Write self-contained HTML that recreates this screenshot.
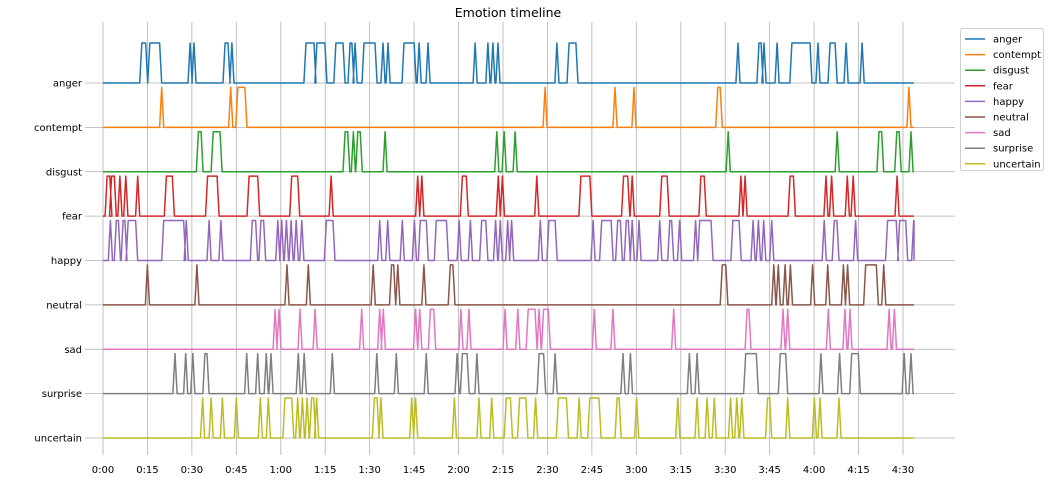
<!DOCTYPE html>
<html><head><meta charset="utf-8">
<style>
body{margin:0;background:#fff;font-family:"Liberation Sans","DejaVu Sans",sans-serif;}
svg text{font-family:"DejaVu Sans","Liberation Sans",sans-serif;}
</style></head>
<body>
<svg id="chart" width="1050" height="482" viewBox="0 0 1050 482" xmlns="http://www.w3.org/2000/svg">
<rect width="1050" height="482" fill="#fff"/>
<text x="508" y="17" text-anchor="middle" font-size="12.5" fill="#000">Emotion timeline</text>
<g id="grid"></g>
<g id="series"></g>
<g id="axes"></g>
<g id="legend"></g>
</svg>
<script>
const emotions = ["anger","contempt","disgust","fear","happy","neutral","sad","surprise","uncertain"];
const colors = ["#1f77b4","#ff7f0e","#2ca02c","#d62728","#9467bd","#8c564b","#e377c2","#7f7f7f","#bcbd22"];
const xTickLabels = ["0:00","0:15","0:30","0:45","1:00","1:15","1:30","1:45","2:00","2:15","2:30","2:45","3:00","3:15","3:30","3:45","4:00","4:15","4:30"];
const xTickMinutes = [0,15,30,45,60,75,90,105,120,135,150,165,180,195,210,225,240,255,270];
const endMinute = 273.7;
// on-intervals [start, end] in minutes
const anger = [[13.1,14.4],[15.8,19.1],[29.4,29.4],[30.7,30.7],[41.2,42.2],[43.5,43.5],[68.5,71.2],[72.2,74.9],[78.6,81.0],[83.4,84.0],[85.1,85.1],[88.1,91.8],[94.5,94.5],[96.2,96.2],[101.6,105.0],[106.7,106.7],[109.7,109.7],[125.6,125.6],[129.9,129.9],[131.6,131.6],[133.3,133.3],[153.2,153.2],[157.3,159.6],[214.3,214.3],[221.4,222.1],[223.1,223.1],[227.5,227.5],[232.5,238.6],[241.3,241.3],[245.4,247.1],[250.8,250.8],[256.2,256.2]];
const contempt = [[19.8,19.8],[43.1,43.1],[45.5,47.9],[149.2,149.2],[172.8,172.8],[179.2,179.2],[207.5,208.3],[272.0,272.0]];
const disgust = [[32.2,33.1],[37.2,39.5],[81.7,82.6],[84.5,84.5],[86.0,86.8],[95.2,95.2],[132.9,132.9],[135.4,135.4],[139.1,139.1],[211.0,211.0],[247.8,247.8],[261.9,262.8],[267.9,268.7],[272.7,272.7]];
const fear = [[1.4,2.3],[2.9,3.8],[5.7,5.7],[7.7,7.7],[11.7,11.7],[21.4,23.4],[35.3,38.5],[49.3,52.2],[63.7,65.7],[77.0,77.0],[106.2,106.2],[107.6,107.6],[121.3,122.6],[133.4,133.4],[134.8,134.8],[146.4,146.4],[161.3,164.3],[175.7,177.1],[178.6,178.6],[188.6,190.4],[201.8,202.9],[215.3,215.3],[216.7,216.7],[231.9,233.0],[244.0,244.0],[245.9,245.9],[251.2,251.2],[253.2,253.2],[268.0,268.0]];
const happy = [[2.5,2.5],[4.5,5.2],[6.8,7.4],[8.5,11.0],[20.5,27.2],[28.1,28.1],[35.8,35.8],[39.8,39.8],[50.4,51.5],[53.3,54.2],[59.0,59.0],[60.3,60.3],[61.9,61.9],[63.5,63.5],[65.2,65.2],[67.1,67.1],[75.4,77.6],[93.4,93.4],[96.1,96.1],[101.0,101.0],[105.1,105.1],[107.1,109.1],[112.5,115.9],[120.2,120.2],[124.0,124.0],[127.8,129.2],[132.5,132.5],[134.1,134.1],[136.6,136.6],[137.9,137.9],[147.6,147.6],[150.5,152.6],[165.4,165.4],[168.3,171.5],[173.7,174.6],[176.6,177.3],[178.6,178.6],[180.9,180.9],[187.9,187.9],[191.3,191.9],[194.6,194.6],[200.0,200.0],[201.4,205.2],[212.6,214.7],[219.4,219.4],[221.2,221.2],[223.0,223.0],[225.7,225.7],[243.4,243.4],[246.8,247.7],[254.0,254.0],[264.8,267.7],[268.9,270.9],[273.6,273.7]];
const neutral = [[15.0,15.0],[31.7,31.7],[62.1,62.1],[69.3,69.3],[91.2,91.2],[97.4,98.1],[99.5,99.5],[108.3,108.3],[117.2,118.1],[209.0,210.2],[226.4,226.4],[227.9,227.9],[230.2,230.2],[232.0,232.0],[239.5,239.5],[244.6,244.6],[249.9,249.9],[251.3,251.3],[257.4,261.0],[263.5,263.5]];
const sad = [[58.1,58.1],[59.4,59.4],[66.5,66.5],[71.6,71.6],[87.3,87.3],[93.4,93.4],[94.6,94.6],[105.5,105.5],[106.9,106.9],[110.5,111.6],[120.8,120.8],[123.5,123.5],[135.7,135.7],[140.0,140.0],[143.5,145.8],[147.2,147.2],[148.7,150.3],[165.8,165.8],[172.1,172.1],[192.6,192.6],[217.4,218.0],[229.5,229.5],[231.1,231.1],[244.8,244.8],[250.4,250.4],[252.1,252.1],[265.3,265.3],[267.1,267.1]];
const surprise = [[24.3,24.3],[27.9,27.9],[30.3,30.3],[34.4,35.1],[48.5,48.5],[52.2,52.2],[55.1,55.1],[56.7,56.7],[65.9,65.9],[67.9,67.9],[77.4,77.4],[92.4,92.4],[99.0,99.0],[109.1,109.1],[119.5,119.5],[121.3,122.9],[126.2,126.2],[147.2,148.7],[152.6,152.6],[175.5,175.5],[178.0,178.0],[197.9,197.9],[200.5,200.5],[216.9,220.5],[228.6,230.4],[242.3,242.3],[248.6,248.6],[252.7,254.9],[270.4,270.4],[272.7,272.7]];
const uncertain = [[33.6,33.6],[36.5,36.5],[40.3,40.3],[45.0,45.0],[53.1,53.1],[55.8,55.8],[61.4,63.7],[65.7,65.7],[67.3,67.3],[68.9,68.9],[70.4,71.1],[72.1,72.1],[91.6,92.5],[93.8,93.8],[104.2,104.2],[105.5,105.5],[118.6,118.6],[126.9,126.9],[131.2,131.2],[136.1,137.5],[140.6,142.7],[146.0,146.0],[153.7,156.4],[160.7,160.7],[164.3,167.4],[173.5,174.2],[180.1,180.1],[194.0,194.0],[200.5,200.5],[203.9,203.9],[206.3,206.3],[211.8,211.8],[213.9,213.9],[215.6,215.6],[224.3,225.0],[231.1,231.1],[240.1,240.1],[242.0,242.0],[248.4,248.4]];
const seriesData = [anger,contempt,disgust,fear,happy,neutral,sad,surprise,uncertain];

const NS = "http://www.w3.org/2000/svg";
const X0 = 103, X1 = 903;
const xScale = m => X0 + (m - 0) * (X1 - X0) / 270;
const rowY = i => 438 - (emotions.length - 1 - i) * 44.375;
const PULSE = 40, RAMP = 0.7;
function mk(tag, attrs, parent){ const e=document.createElementNS(NS,tag); for(const k in attrs) e.setAttribute(k,attrs[k]); parent.appendChild(e); return e; }

const grid = document.getElementById('grid');
xTickMinutes.forEach((m,i)=>{
  const l = mk('line',{x1:xScale(m),x2:xScale(m),y1:22,y2:455,stroke:'#b0b0b0','stroke-width':0.8},grid);
  
  
});
emotions.forEach((e,i)=>{
  const l = mk('line',{x1:85,x2:955,y1:rowY(i),y2:rowY(i),stroke:'#b0b0b0','stroke-width':0.8},grid);
  
  
});

const axes = document.getElementById('axes');
xTickMinutes.forEach((m,i)=>{
  const t = mk('text',{x:xScale(m),y:473,'text-anchor':'middle','font-size':10,fill:'#000'},axes);
  t.textContent = xTickLabels[i];
  
  
});
emotions.forEach((e,i)=>{
  const t = mk('text',{x:82,y:rowY(i)+3.5,'text-anchor':'end','font-size':10,fill:'#000'},axes);
  t.textContent = e;
  
  
});

const sg = document.getElementById('series');
seriesData.forEach((ivs,i)=>{
  const y0 = rowY(i), y1 = y0 - PULSE;
  let pts = [[xScale(0),y0]];
  ivs.forEach(([s,e])=>{
    pts.push([xScale(Math.max(0,s-RAMP)),y0],[xScale(s),y1],[xScale(e),y1],[xScale(Math.min(endMinute,e+RAMP)),y0]);
  });
  pts.push([xScale(endMinute),y0]);
  const p = mk('polyline',{points:pts.map(p=>p[0].toFixed(1)+','+p[1].toFixed(1)).join(' '),fill:'none',stroke:colors[i],'stroke-width':1.5,'stroke-linejoin':'round'},sg);
  
  
});

const lg = document.getElementById('legend');
const box = mk('rect',{x:960.5,y:28.5,width:83,height:142,rx:2,fill:'#fff',stroke:'#d0d0d0','stroke-width':1},lg);


emotions.forEach((e,i)=>{
  const y = 39 + i*15.6;
  const g = mk('g',{},lg);
  
  
  mk('line',{x1:965,x2:985,y1:y,y2:y,stroke:colors[i],'stroke-width':1.5},g);
  const t = mk('text',{x:993,y:y+3.5,'font-size':10,fill:'#000'},g);
  t.textContent = e;
});
</script>
</body></html>
